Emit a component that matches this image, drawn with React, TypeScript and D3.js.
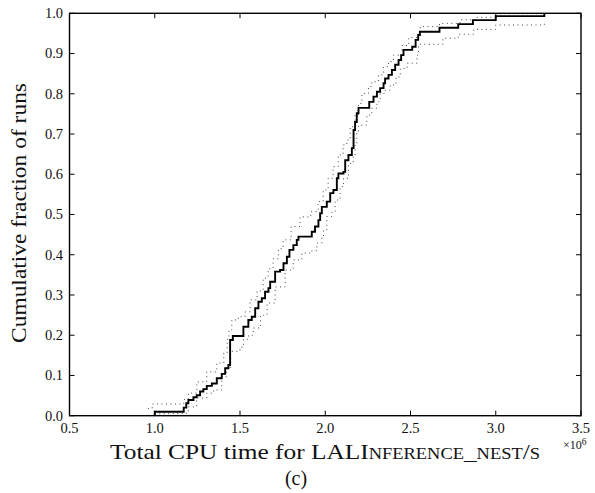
import React from "react";
import * as d3 from "d3";

// Empirical CDF (step positions in units of 1e6 s, cumulative fraction after step)
const cpuTime = [1.0, 1.0, 1.17, 1.185, 1.197, 1.227, 1.246, 1.266, 1.285, 1.305, 1.335, 1.364, 1.393, 1.413, 1.432, 1.442, 1.458, 1.52, 1.549, 1.569, 1.589, 1.608, 1.628, 1.647, 1.667, 1.677, 1.706, 1.735, 1.755, 1.775, 1.79, 1.813, 1.833, 1.843, 1.921, 1.94, 1.96, 1.97, 1.98, 2.009, 2.029, 2.048, 2.068, 2.077, 2.107, 2.117, 2.136, 2.156, 2.166, 2.175, 2.185, 2.195, 2.258, 2.283, 2.303, 2.322, 2.342, 2.351, 2.371, 2.391, 2.41, 2.43, 2.445, 2.459, 2.51, 2.53, 2.545, 2.555, 2.67, 2.78, 2.866, 3.0, 3.285];
const cumFrac = [0.0, 0.01, 0.02, 0.031, 0.039, 0.046, 0.051, 0.06, 0.066, 0.074, 0.08, 0.093, 0.104, 0.118, 0.126, 0.188, 0.198, 0.221, 0.238, 0.246, 0.267, 0.283, 0.292, 0.308, 0.317, 0.333, 0.358, 0.362, 0.379, 0.395, 0.412, 0.424, 0.437, 0.445, 0.457, 0.47, 0.486, 0.503, 0.519, 0.532, 0.553, 0.561, 0.59, 0.602, 0.606, 0.635, 0.648, 0.665, 0.71, 0.73, 0.752, 0.765, 0.78, 0.793, 0.805, 0.814, 0.826, 0.838, 0.847, 0.859, 0.872, 0.884, 0.896, 0.909, 0.917, 0.934, 0.946, 0.954, 0.964, 0.973, 0.983, 0.993, 1.0];

// Upper confidence band
const upperX = [0.96, 0.985, 1.17, 1.197, 1.247, 1.305, 1.364, 1.405, 1.425, 1.435, 1.452, 1.49, 1.53, 1.559, 1.6, 1.636, 1.665, 1.694, 1.725, 1.753, 1.8, 1.852, 1.915, 1.958, 1.988, 2.017, 2.046, 2.076, 2.105, 2.127, 2.146, 2.175, 2.195, 2.215, 2.254, 2.273, 2.312, 2.342, 2.371, 2.4, 2.45, 2.49, 2.547, 2.557, 2.67, 2.79, 2.88, 3.0, 3.285];
const upperY = [0.018, 0.029, 0.04, 0.056, 0.084, 0.109, 0.131, 0.156, 0.19, 0.213, 0.238, 0.246, 0.258, 0.288, 0.31, 0.342, 0.365, 0.39, 0.415, 0.437, 0.47, 0.494, 0.507, 0.532, 0.561, 0.59, 0.619, 0.648, 0.673, 0.685, 0.718, 0.747, 0.776, 0.801, 0.818, 0.83, 0.847, 0.867, 0.88, 0.896, 0.92, 0.94, 0.954, 0.967, 0.975, 0.984, 0.99, 0.999, 0.999];

// Lower confidence band
const lowerX = [1.0, 1.185, 1.197, 1.246, 1.305, 1.345, 1.393, 1.42, 1.445, 1.5, 1.52, 1.55, 1.577, 1.62, 1.659, 1.706, 1.765, 1.812, 1.863, 1.921, 1.951, 1.98, 1.99, 2.009, 2.039, 2.058, 2.087, 2.107, 2.136, 2.164, 2.175, 2.185, 2.195, 2.244, 2.273, 2.303, 2.322, 2.351, 2.381, 2.415, 2.44, 2.48, 2.538, 2.547, 2.69, 2.78, 2.87, 3.0, 3.285];
const lowerY = [0.005, 0.012, 0.022, 0.044, 0.056, 0.064, 0.097, 0.12, 0.16, 0.17, 0.19, 0.2, 0.218, 0.25, 0.28, 0.32, 0.362, 0.387, 0.404, 0.41, 0.429, 0.445, 0.461, 0.495, 0.507, 0.536, 0.569, 0.59, 0.627, 0.648, 0.673, 0.706, 0.722, 0.747, 0.764, 0.78, 0.801, 0.809, 0.822, 0.842, 0.863, 0.876, 0.896, 0.923, 0.938, 0.948, 0.96, 0.971, 0.979];

const xTicks = [0.5, 1.0, 1.5, 2.0, 2.5, 3.0, 3.5];
const yTicks = [0.0, 0.1, 0.2, 0.3, 0.4, 0.5, 0.6, 0.7, 0.8, 0.9, 1.0];

const W = 595;
const H = 493;
const M = { left: 69.5, right: 581, top: 13.3, bottom: 415.7 };
const FONT = "'Liberation Serif', 'Times New Roman', serif";

export default function App() {
  const x = d3.scaleLinear().domain([0.5, 3.5]).range([M.left, M.right]);
  const y = d3.scaleLinear().domain([0, 1]).range([M.bottom, M.top]);
  const line = d3
    .line<[number, number]>()
    .x((d) => x(d[0]))
    .y((d) => y(d[1]))
    .curve(d3.curveStepAfter);

  const mainPts = cpuTime.map((v, i) => [v, cumFrac[i]] as [number, number]);
  const upPts = upperX.map((v, i) => [v, upperY[i]] as [number, number]);
  const loPts = lowerX.map((v, i) => [v, lowerY[i]] as [number, number]);
  const tickLen = 5;
  const sc = 16;

  return (
    <svg width={W} height={H} style={{ position: "absolute", left: 0, top: 0, background: "#fff" }}>
      <rect x={0} y={0} width={W} height={H} fill="#fff" />
      <path d={line(loPts) || ""} fill="none" stroke="#444" strokeWidth={1} strokeDasharray="1,3.5" />
      <path d={line(upPts) || ""} fill="none" stroke="#444" strokeWidth={1} strokeDasharray="1,3.5" />
      <path d={line(mainPts) || ""} fill="none" stroke="#000" strokeWidth={1.9} />
      {xTicks.map((t) => (
        <g key={"x" + t}>
          <line x1={x(t)} x2={x(t)} y1={M.bottom} y2={M.bottom - tickLen} stroke="#000" strokeWidth={1} />
          <line x1={x(t)} x2={x(t)} y1={M.top} y2={M.top + tickLen} stroke="#000" strokeWidth={1} />
          <text x={x(t)} y={433} textAnchor="middle" fontFamily={FONT} fontSize={14.5} fill="#111">
            {t.toFixed(1)}
          </text>
        </g>
      ))}
      {yTicks.map((t) => (
        <g key={"y" + t}>
          <line x1={M.left} x2={M.left + tickLen} y1={y(t)} y2={y(t)} stroke="#000" strokeWidth={1} />
          <line x1={M.right} x2={M.right - tickLen} y1={y(t)} y2={y(t)} stroke="#000" strokeWidth={1} />
          <text x={63} y={y(t) + 4.8} textAnchor="end" fontFamily={FONT} fontSize={14.5} fill="#111">
            {t.toFixed(1)}
          </text>
        </g>
      ))}
      <rect x={M.left} y={M.top} width={M.right - M.left} height={M.bottom - M.top} fill="none" stroke="#000" strokeWidth={1.4} />
      <text x={563} y={449} fontFamily={FONT} fontSize={12} fill="#111">
        ×10<tspan dy={-4} fontSize={9.5}>6</tspan>
      </text>
      <text
        x={110}
        y={459}
        fontFamily={FONT}
        fontSize={22}
        fill="#111"
        textLength={430}
        lengthAdjust="spacingAndGlyphs"
      >
        Total CPU time for LALI<tspan fontSize={sc}>NFERENCE</tspan>_<tspan fontSize={sc}>NEST</tspan>/<tspan fontSize={sc}>S</tspan>
      </text>
      <text
        transform={`translate(26,213) rotate(-90)`}
        textAnchor="middle"
        fontFamily={FONT}
        fontSize={22}
        fill="#111"
        textLength={260}
        lengthAdjust="spacingAndGlyphs"
      >
        Cumulative fraction of runs
      </text>
      <text x={296} y={485} textAnchor="middle" fontFamily={FONT} fontSize={20} fill="#111">
        (c)
      </text>
    </svg>
  );
}
